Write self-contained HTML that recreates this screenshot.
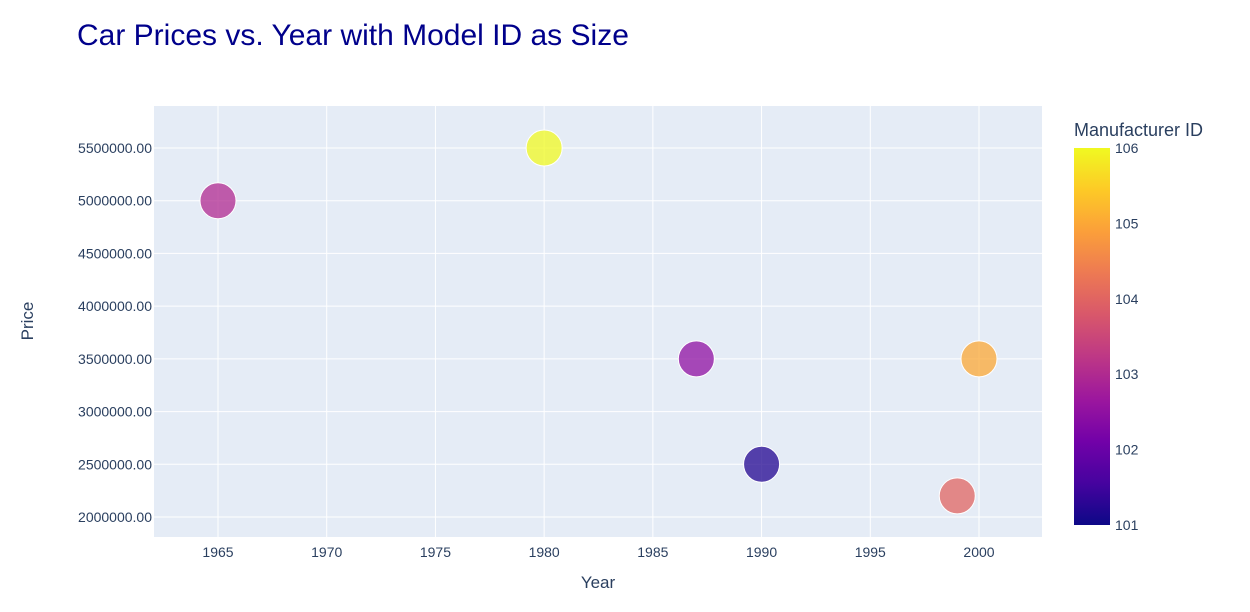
<!DOCTYPE html>
<html><head><meta charset="utf-8"><style>
body{margin:0;background:#fff;font-family:"Liberation Sans",sans-serif}
</style></head><body>
<svg id="chart" width="1250" height="607" xmlns="http://www.w3.org/2000/svg" font-family="Liberation Sans, sans-serif">
<defs><linearGradient id="plasma" x1="0" y1="1" x2="0" y2="0">
<stop offset="0" stop-color="#0d0887"/><stop offset="0.111" stop-color="#46039f"/><stop offset="0.222" stop-color="#7201a8"/><stop offset="0.333" stop-color="#9c179e"/><stop offset="0.444" stop-color="#bd3786"/><stop offset="0.556" stop-color="#d8576b"/><stop offset="0.667" stop-color="#ed7953"/><stop offset="0.778" stop-color="#fb9f3a"/><stop offset="0.889" stop-color="#fdca26"/><stop offset="1" stop-color="#f0f921"/>
</linearGradient></defs>
<text x="77" y="45" font-size="30" fill="#00008b">Car Prices vs. Year with Model ID as Size</text>
<rect x="154" y="106" width="888" height="431" fill="#e5ecf6"/>
<g id="grid"></g><g id="marks"></g>
<text x="598" y="588" font-size="17" fill="#2a3f5f" text-anchor="middle">Year</text>
<text transform="translate(33,321) rotate(-90)" font-size="17" fill="#2a3f5f" text-anchor="middle">Price</text>
<text x="1074" y="136" font-size="18" fill="#2a3f5f">Manufacturer ID</text>
<rect x="1074" y="148" width="36" height="377" fill="url(#plasma)"/>
<g id="cbticks"></g>
</svg>
<script>
const years=[1965,1980,1987,1990,1999,2000];
const prices=[5000000,5500000,3500000,2500000,2200000,3500000];
const manuf=[103,106,102.5,101.2,104,105];
const xTicks=[1965,1970,1975,1980,1985,1990,1995,2000];
const yTicks=[2000000,2500000,3000000,3500000,4000000,4500000,5000000,5500000];
const cbTicks=[101,102,103,104,105,106];
const NS="http://www.w3.org/2000/svg";
const X=v=>218+(v-1965)*(979-218)/35;
const Y=v=>517-(v-2000000)*(517-148)/3500000;
const C=v=>525-(v-101)*(525-148)/5;
const stops=["#0d0887","#46039f","#7201a8","#9c179e","#bd3786","#d8576b","#ed7953","#fb9f3a","#fdca26","#f0f921"];
function col(v){let t=(v-101)/5*9,i=Math.min(8,Math.floor(t)),f=t-i;
const a=stops[i],b=stops[i+1];const p=(h,k)=>parseInt(h.substr(1+2*k,2),16);
return "rgb("+[0,1,2].map(k=>Math.round(p(a,k)+(p(b,k)-p(a,k))*f)).join(",")+")";}
function el(t,at,p){const e=document.createElementNS(NS,t);for(const k in at)e.setAttribute(k,at[k]);p.appendChild(e);return e;}
const g=document.getElementById("grid"),m=document.getElementById("marks"),cb=document.getElementById("cbticks");
xTicks.forEach(v=>{const l=el("line",{x1:X(v),x2:X(v),y1:106,y2:537,stroke:"#fff","stroke-width":1},g);


const t=el("text",{x:X(v),y:557,"font-size":14,fill:"#2a3f5f","text-anchor":"middle"},g);t.textContent=v;

});
yTicks.forEach(v=>{const l=el("line",{x1:154,x2:1042,y1:Y(v),y2:Y(v),stroke:"#fff","stroke-width":1},g);


const t=el("text",{x:152,y:Y(v)+5,"font-size":14,fill:"#2a3f5f","text-anchor":"end"},g);t.textContent=v.toFixed(2);

});
years.forEach((y,i)=>{const c=el("circle",{cx:X(y),cy:Y(prices[i]),r:18,fill:col(manuf[i]),"fill-opacity":0.75,stroke:"#fff","stroke-width":1},m);

});
cbTicks.forEach(v=>{const t=el("text",{x:1115,y:C(v)+5,"font-size":14,fill:"#2a3f5f"},cb);t.textContent=v;

});
</script>
</body></html>
